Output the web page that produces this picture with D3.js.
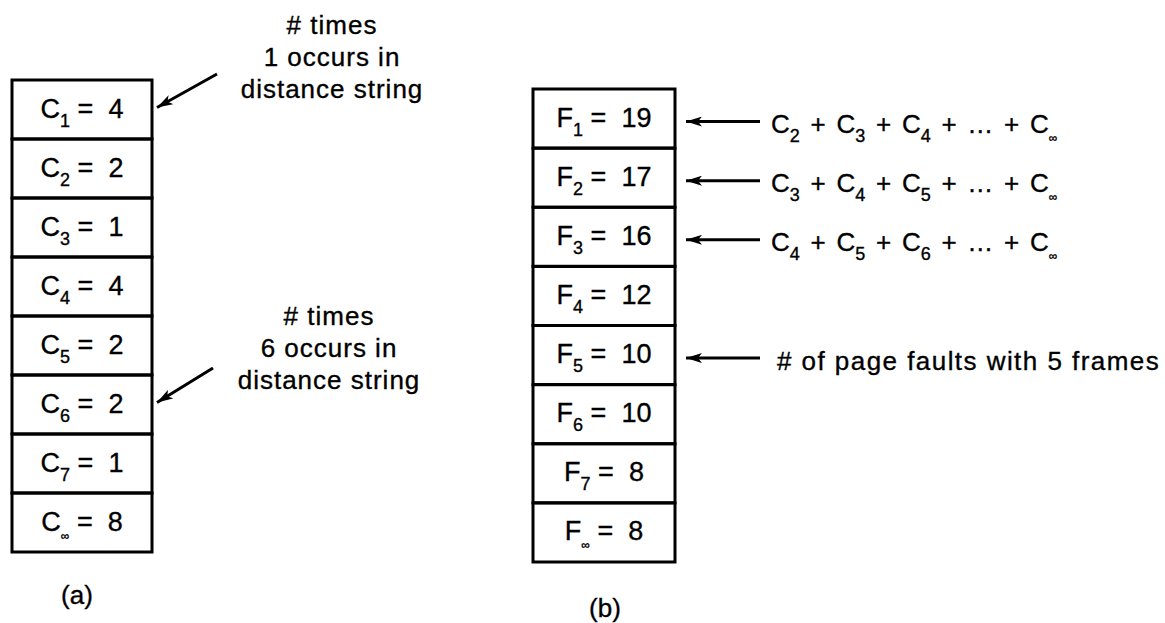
<!DOCTYPE html>
<html>
<head>
<meta charset="utf-8">
<script src="https://cdn.jsdelivr.net/npm/d3@7"></script>
<style>
  html, body { margin: 0; padding: 0; background: #fff; }
  svg { display: block; }
  text { font-family: "Liberation Sans", Arial, Helvetica, sans-serif; fill: #000; stroke: #000; stroke-width: 0.35; }
</style>
</head>
<body>
<svg id="chart" width="1165" height="623"></svg>
<script>
// ---- data ----
const cSubscripts = ["1", "2", "3", "4", "5", "6", "7", "∞"];
const cValues = [4, 2, 1, 4, 2, 2, 1, 8];
const fSubscripts = ["1", "2", "3", "4", "5", "6", "7", "∞"];
const fValues = [19, 17, 16, 12, 10, 10, 8, 8];
// formulas pointing at F1..F3: subscripts of the summed C terms
const formulaRows = [0, 1, 2];
const formulaTerms = [["2", "3", "4"], ["3", "4", "5"], ["4", "5", "6"]];
const faultRow = 4;
const faultLabel = "# of page faults with 5 frames";
const noteTop = ["# times", "1 occurs in", "distance string"];
const noteBottom = ["# times", "6 occurs in", "distance string"];
const captionA = "(a)";
const captionB = "(b)";

const svg = d3.select("#chart");

const yA = d3.scaleBand().domain(d3.range(cValues.length)).range([80, 552]).padding(0);
const yB = d3.scaleBand().domain(d3.range(fValues.length)).range([89, 562]).padding(0);
const xA = d3.scaleLinear().domain([0, 1]).range([12, 152]);
const xB = d3.scaleLinear().domain([0, 1]).range([533, 675]);

// arrow marker
svg.append("defs").append("marker")
  .attr("id", "head")
  .attr("viewBox", "0 0 16 10")
  .attr("refX", 16).attr("refY", 5)
  .attr("markerWidth", 16).attr("markerHeight", 10)
  .attr("markerUnits", "userSpaceOnUse")
  .attr("orient", "auto")
  .append("path").attr("d", "M0,0 L16,5 L0,10 L4,5 Z").attr("fill", "#000");

function drawStack(values, subs, letter, y, x) {
  const g = svg.append("g");
  g.selectAll("rect").data(values).join("rect")
    .attr("x", x(0)).attr("y", (d, i) => y(i))
    .attr("width", x(1) - x(0)).attr("height", y.bandwidth())
    .attr("fill", "none").attr("stroke", "#000").attr("stroke-width", 3);
  const t = g.selectAll("text").data(values).join("text")
    .attr("x", (x(0) + x(1)) / 2)
    .attr("y", (d, i) => y(i) + y.bandwidth() / 2 + 8)
    .attr("text-anchor", "middle")
    .attr("font-size", 27)
    .attr("style", "white-space: pre");
  t.append("tspan").text(letter);
  t.append("tspan").attr("dy", 9)
    .attr("font-size", (d, i) => subs[i] === "∞" ? 12 : 18)
    .text((d, i) => subs[i]);
  t.append("tspan").attr("dy", -9).text(" =  ");
  t.append("tspan").text(d => d);
}

drawStack(cValues, cSubscripts, "C", yA, xA);
drawStack(fValues, fSubscripts, "F", yB, xB);

// notes for (a)
function drawNote(lines, cx, y0) {
  svg.append("g").selectAll("text").data(lines).join("text")
    .attr("x", cx).attr("y", (d, i) => y0 + i * 32)
    .attr("text-anchor", "middle")
    .attr("font-size", 26)
    .attr("letter-spacing", 1)
    .text(d => d);
}
drawNote(noteTop, 332, 34);
drawNote(noteBottom, 329, 325);

// diagonal arrows for (a)
const diag = [
  { row: 0, x1: 217, y1: 74 },
  { row: 5, x1: 213, y1: 368 }
];
svg.append("g").selectAll("line").data(diag).join("line")
  .attr("x1", d => d.x1).attr("y1", d => d.y1)
  .attr("x2", xA(1) + 5).attr("y2", d => yA(d.row) + yA.bandwidth() / 2 - 2)
  .attr("stroke", "#000").attr("stroke-width", 3)
  .attr("marker-end", "url(#head)");

// horizontal arrows for (b)
const arrowRows = formulaRows.concat([faultRow]);
svg.append("g").selectAll("line").data(arrowRows).join("line")
  .attr("x1", 760).attr("x2", xB(1) + 11)
  .attr("y1", d => yB(d) + yB.bandwidth() / 2 + 3)
  .attr("y2", d => yB(d) + yB.bandwidth() / 2 + 3)
  .attr("stroke", "#000").attr("stroke-width", 3)
  .attr("marker-end", "url(#head)");

// formulas
const ft = svg.append("g").selectAll("text").data(formulaRows).join("text")
  .attr("x", 771)
  .attr("y", d => yB(d) + yB.bandwidth() / 2 + 14)
  .attr("font-size", 26)
  .attr("word-spacing", 3.5)
  .attr("style", "white-space: pre");
ft.each(function (row, k) {
  const el = d3.select(this);
  const terms = formulaTerms[k].concat(["…", "∞"]);
  terms.forEach((s, j) => {
    if (s === "…") {
      el.append("tspan").text("…");
      el.append("tspan").text(" + ");
      return;
    }
    el.append("tspan").text("C");
    el.append("tspan").attr("dy", 9).attr("font-size", s === "∞" ? 12 : 18).text(s);
    if (j < terms.length - 1) el.append("tspan").attr("dy", -9).text(" + ");
  });
});

// page fault label
svg.append("text")
  .attr("x", 777).attr("y", yB(faultRow) + yB.bandwidth() / 2 + 14.5)
  .attr("font-size", 26).attr("letter-spacing", 1.45)
  .text(faultLabel);

// captions
svg.append("text").attr("x", 77).attr("y", 604).attr("text-anchor", "middle")
  .attr("font-size", 26).text(captionA);
svg.append("text").attr("x", 605).attr("y", 617).attr("text-anchor", "middle")
  .attr("font-size", 26).text(captionB);
</script>
</body>
</html>
